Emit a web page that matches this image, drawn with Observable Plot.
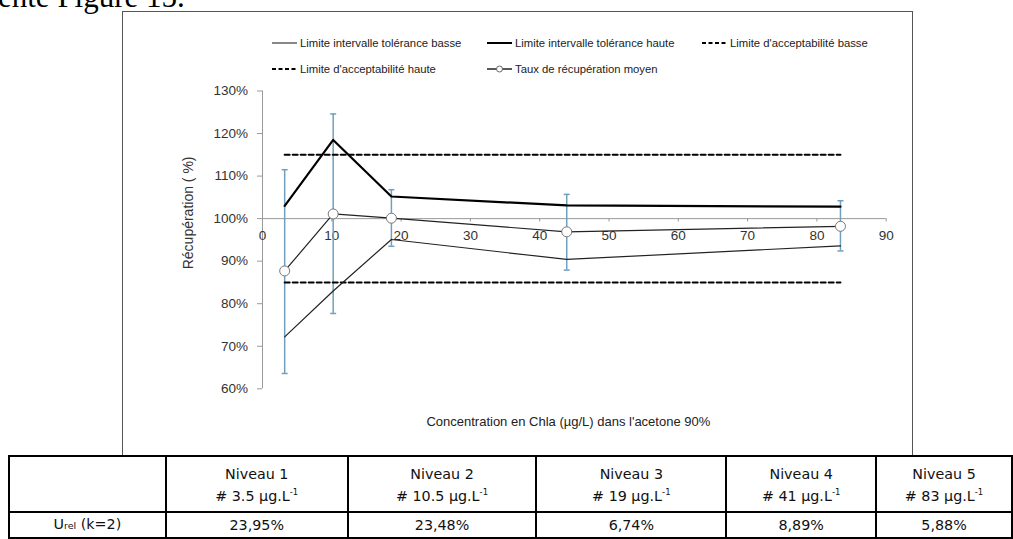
<!DOCTYPE html>
<html><head><meta charset="utf-8">
<script src="https://cdn.jsdelivr.net/npm/d3@7"></script>
<script src="https://cdn.jsdelivr.net/npm/@observablehq/plot@0.6"></script>
<style>
body{margin:0;background:#fff;}
#wrap{position:relative;width:1013px;height:539px;overflow:hidden;font-family:"Liberation Sans",Arial,sans-serif;}
#intro{position:absolute;left:-2px;top:-18px;font-family:"Liberation Serif","Times New Roman",serif;font-size:31px;line-height:30px;white-space:nowrap;color:#000}
#box{position:absolute;left:122px;top:11px;width:791px;height:445px;border:1px solid #555;box-sizing:border-box}
#chart{position:absolute;left:0;top:0}
.leg{position:absolute;font-size:11.3px;color:#222;white-space:nowrap;display:flex;align-items:center;height:14px}
.leg svg{display:block}
#tbl{position:absolute;left:8px;top:455px;border-collapse:collapse;table-layout:fixed;font-family:"DejaVu Sans",sans-serif;font-size:14.3px;color:#111}
#tbl td{border:2px solid #000;text-align:center;padding:0;}
#tbl tr.h td{height:52px;vertical-align:middle;line-height:18px;padding-top:2px}
#tbl tr.v td{height:23px;line-height:23px}
sup{font-size:8.5px;vertical-align:6px}
sub{font-size:9.5px;vertical-align:0}
</style></head>
<body>
<div id="wrap">
  <div id="intro">ente Figure 15.</div>
  <div id="box"></div>
  <div id="chart"></div>
  <div id="legend"></div>
  <table id="tbl"></table>
</div>
<script>
// ---- data ----
const levels = ["Niveau 1", "Niveau 2", "Niveau 3", "Niveau 4", "Niveau 5"];
const conc = [3.2, 10.2, 18.6, 43.9, 83.4];          // µg/L (x position)
const meanRecovery = [87.7, 101.1, 100.1, 96.9, 98.2];
const upperTolerance = [103.0, 118.5, 105.2, 103.1, 102.8];
const lowerTolerance = [72.2, 83.0, 95.1, 90.4, 93.6];
const errorHigh = [111.5, 124.6, 106.8, 105.7, 104.2];
const errorLow = [63.6, 77.7, 93.5, 87.9, 92.4];
const acceptLow = 85;
const acceptHigh = 115;
const yTicks = [60, 70, 80, 90, 100, 110, 120, 130];
const xTicks = [0, 10, 20, 30, 40, 50, 60, 70, 80, 90];
const nominal = ["3.5", "10.5", "19", "41", "83"];
const urel = ["23,95%", "23,48%", "6,74%", "8,89%", "5,88%"];
const yTitle = "Récupération ( %)";
const xTitle = "Concentration en Chla (µg/L) dans l'acetone 90%";
const legendItems = [
  {label: "Limite intervalle tolérance basse", kind: "thin"},
  {label: "Limite intervalle tolérance haute", kind: "thick"},
  {label: "Limite d'acceptabilité basse", kind: "dash"},
  {label: "Limite d'acceptabilité haute", kind: "dash"},
  {label: "Taux de récupération moyen", kind: "marker"}
];

const blue = "#6fa0bf";
const data = conc.map((x, i) => ({x, mean: meanRecovery[i], up: upperTolerance[i], lo: lowerTolerance[i], eh: errorHigh[i], el: errorLow[i]}));
const accept = [acceptLow, acceptHigh].flatMap(v => [{x: conc[0], y: v, k: v}, {x: conc[conc.length - 1], y: v, k: v}]);
const cap = {draw(ctx, size) { const w = Math.sqrt(size / Math.PI); ctx.moveTo(-w, 0); ctx.lineTo(w, 0); }};

const chart = Plot.plot({
  width: 1013, height: 456,
  marginLeft: 262, marginRight: 127.3, marginTop: 90.5, marginBottom: 67.7,
  x: {domain: [0, 90], axis: null},
  y: {domain: [60, 130], axis: null},
  style: {fontFamily: "Liberation Sans, Arial, sans-serif", fontSize: "13.5px", color: "#333", background: "transparent", overflow: "visible"},
  marks: [
    Plot.ruleX([0], {y1: 60, y2: 130, stroke: "#999"}),
    Plot.axisY(yTicks, {tickFormat: d => d + "%", tickSize: 5, tickPadding: 9.5, stroke: "#999", fill: "#333", fontSize: 13.5, label: null}),
    Plot.ruleY([100], {x1: 0, x2: 90, stroke: "#999"}),
    Plot.ruleX(xTicks, {x: d => d, y1: 100, y2: 99.2, stroke: "#999"}),
    Plot.text(xTicks, {x: d => d, y: 100, dy: 17, text: d => String(d), fill: "#333", fontSize: 13.5}),
    Plot.text([yTitle], {frameAnchor: "left", dx: -74, dy: -27, rotate: -90, textAnchor: "middle", lineAnchor: "middle", fill: "#333", fontSize: 14}),
    Plot.text([xTitle], {frameAnchor: "bottom", dx: -6, dy: 33.4, textAnchor: "middle", lineAnchor: "middle", fill: "#222", fontSize: 13}),
    Plot.ruleX(data, {x: "x", y1: "el", y2: "eh", stroke: blue, strokeWidth: 1.5}),
    Plot.dot(data, {x: "x", y: "eh", symbol: cap, r: 3, stroke: blue, strokeWidth: 1.5}),
    Plot.dot(data, {x: "x", y: "el", symbol: cap, r: 3, stroke: blue, strokeWidth: 1.5}),
    Plot.line(accept, {x: "x", y: "y", z: "k", stroke: "#000", strokeWidth: 2, strokeDasharray: "5,3"}),
    Plot.line(data, {x: "x", y: "lo", stroke: "#222", strokeWidth: 1.2}),
    Plot.line(data, {x: "x", y: "up", stroke: "#000", strokeWidth: 2.2}),
    Plot.line(data, {x: "x", y: "mean", stroke: "#222", strokeWidth: 1.2}),
    Plot.dot(data, {x: "x", y: "mean", r: 5, fill: "#fff", stroke: "#777", strokeWidth: 1})
  ]
});
document.getElementById("chart").appendChild(chart);

// ---- legend ----
const legPos = [[271.7, 35.7], [486.7, 35.7], [701.7, 35.7], [271.7, 62.3], [486.7, 62.3]];
const leg = document.getElementById("legend");
legendItems.forEach((it, i) => {
  const d = document.createElement("div");
  d.className = "leg";
  d.style.left = legPos[i][0] + "px";
  d.style.top = legPos[i][1] + "px";
  let sw;
  if (it.kind === "thin") sw = '<line x1="0" x2="25" y1="7" y2="7" stroke="#888" stroke-width="2"/>';
  else if (it.kind === "thick") sw = '<line x1="0" x2="25" y1="7" y2="7" stroke="#000" stroke-width="2"/>';
  else if (it.kind === "dash") sw = '<line x1="0" x2="25" y1="7" y2="7" stroke="#000" stroke-width="2" stroke-dasharray="4,2.5"/>';
  else sw = '<line x1="0" x2="25" y1="7" y2="7" stroke="#222" stroke-width="1.5"/><circle cx="12.5" cy="7" r="3" fill="#fff" stroke="#666"/>';
  d.innerHTML = '<svg width="25" height="14">' + sw + '</svg><span style="margin-left:3.3px">' + it.label + '</span>';
  leg.appendChild(d);
});

// ---- table ----
const widths = [157, 182, 189, 190, 150, 136];
const tbl = document.getElementById("tbl");
let html = "<colgroup>" + widths.map(w => `<col style="width:${w}px">`).join("") + "</colgroup>";
html += '<tr class="h"><td></td>' + levels.map((l, i) => `<td>${l}<br># ${nominal[i]} µg.L<sup>-1</sup></td>`).join("") + "</tr>";
html += '<tr class="v"><td>U<sub>rel</sub> (k=2)</td>' + urel.map(u => `<td>${u}</td>`).join("") + "</tr>";
tbl.innerHTML = html;
</script>
</body></html>
